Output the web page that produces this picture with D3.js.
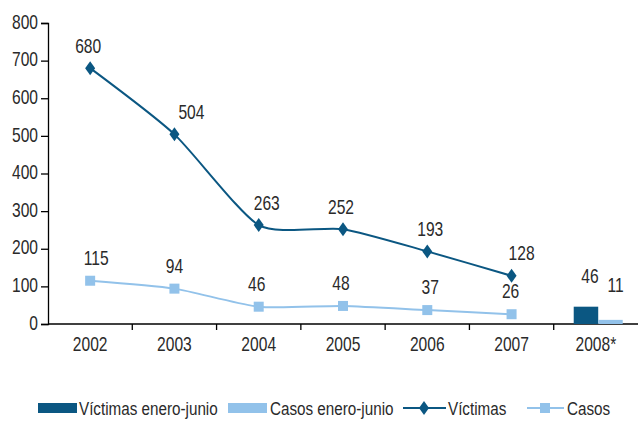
<!DOCTYPE html>
<html>
<head>
<meta charset="utf-8">
<script src="https://cdn.jsdelivr.net/npm/d3@7"></script>
<style>
  body { margin: 0; background: #fff; }
  svg text { font-family: "Liberation Sans", Arial, sans-serif; fill: #2a2a2a; font-size: 20px; }
  svg .leg text { font-size: 17.5px; }
</style>
</head>
<body>
<div id="bdy"></div>
<script>
var width = 639;
var height = 422;

// categories
var years = ["2002", "2003", "2004", "2005", "2006", "2007", "2008*"];
var lineYears = ["2002", "2003", "2004", "2005", "2006", "2007"];
// series values
var victimas = [680, 504, 263, 252, 193, 128];
var casos = [115, 94, 46, 48, 37, 26];
var victimasEneroJunio = 46;
var casosEneroJunio = 11;
// y tick labels
var yTicks = [0, 100, 200, 300, 400, 500, 600, 700, 800];
// legend labels
var legendLabels = ["Víctimas enero-junio", "Casos enero-junio", "Víctimas", "Casos"];

// label nudges (style, not data)
var vicLabelDx = [-2, 17, 8, -2, 3, 10];
var casLabelDx = [6, 0, -2, -2, 3, -1];

var dark = "#0b5782";
var light = "#92c2ea";

var svg = d3.select("#bdy").append("svg")
    .attr("width", width)
    .attr("height", height);

// condensed text helper
function txt(g, x, y, s, anchor, sx) {
    return g.append("text")
        .attr("transform", "translate(" + x + "," + y + ") scale(" + (sx || 0.78) + ",1)")
        .attr("text-anchor", anchor || "start")
        .text(s);
}

var xScale = d3.scaleBand().domain(years).range([48, 638]).padding(0);
var yScale = d3.scaleLinear().domain([0, 800]).range([324, 23]);
function cx(y) { return xScale(y) + xScale.bandwidth() / 2; }

//========================================================================
//                      AXES
//========================================================================
var yAxis = svg.append("g")
    .attr("transform", "translate(48,0)")
    .call(d3.axisLeft(yScale).tickValues(yTicks).tickSize(7).tickFormat(""));
yAxis.select(".domain").attr("stroke", "#000").attr("stroke-width", 1.3);
yAxis.selectAll(".tick line").attr("stroke", "#000").attr("stroke-width", 1.3);
yTicks.forEach(function(t) {
    txt(svg, 38, yScale(t) + 5.7, t, "end");
});

var xAxis = svg.append("g").attr("transform", "translate(0,324)");
xAxis.append("line")
    .attr("x1", 48).attr("x2", 638)
    .attr("stroke", "#000").attr("stroke-width", 1.3);
xAxis.selectAll(".xt")
    .data(years.slice(1))
    .enter().append("line")
    .attr("x1", function(d) { return xScale(d); })
    .attr("x2", function(d) { return xScale(d); })
    .attr("y1", 0).attr("y2", 6)
    .attr("stroke", "#000").attr("stroke-width", 1.3);
years.forEach(function(d) {
    txt(svg, cx(d), 351, d, "middle");
});

//========================================================================
//                      BARS 2008
//========================================================================
var bx0 = xScale("2008*");
var inner = d3.scaleBand().domain(["v", "c"]).range([bx0 + 20, bx0 + 69]);
var barData = [
  { k: "v", v: victimasEneroJunio, c: dark, dx: 4, dy: -24 },
  { k: "c", v: casosEneroJunio, c: light, dx: 5, dy: -27.5 }
];
svg.selectAll(".bar")
    .data(barData)
    .enter().append("rect")
    .attr("x", function(d) { return inner(d.k); })
    .attr("width", inner.bandwidth())
    .attr("y", function(d) { return yScale(d.v); })
    .attr("height", function(d) { return yScale(0) - yScale(d.v); })
    .attr("fill", function(d) { return d.c; });
barData.forEach(function(d) {
    txt(svg, inner(d.k) + inner.bandwidth() / 2 + d.dx, yScale(d.v) + d.dy, d.v, "middle");
});

//========================================================================
//                      LINES
//========================================================================
var line = d3.line()
    .x(function(d, i) { return cx(lineYears[i]); })
    .y(function(d) { return yScale(d); })
    .curve(d3.curveCardinal.tension(0.35));

svg.append("path").datum(casos)
    .attr("d", line).attr("fill", "none")
    .attr("stroke", light).attr("stroke-width", 2);
svg.append("path").datum(victimas)
    .attr("d", line).attr("fill", "none")
    .attr("stroke", dark).attr("stroke-width", 2);

svg.selectAll(".sq")
    .data(casos)
    .enter().append("rect")
    .attr("x", function(d, i) { return cx(lineYears[i]) - 5; })
    .attr("y", function(d) { return yScale(d) - 5; })
    .attr("width", 10).attr("height", 10)
    .attr("fill", light);

var diamond = "M0,-7L5,0L0,7L-5,0Z";
svg.selectAll(".dm")
    .data(victimas)
    .enter().append("path")
    .attr("d", diamond)
    .attr("transform", function(d, i) { return "translate(" + cx(lineYears[i]) + "," + yScale(d) + ")"; })
    .attr("fill", dark);

victimas.forEach(function(d, i) {
    txt(svg, cx(lineYears[i]) + vicLabelDx[i], yScale(d) - 15.5, d, "middle");
});
casos.forEach(function(d, i) {
    txt(svg, cx(lineYears[i]) + casLabelDx[i], yScale(d) - 16, d, "middle");
});

//========================================================================
//                      LEGEND
//========================================================================
var lg = svg.append("g").attr("class", "leg").attr("transform", "translate(0,408)");
lg.append("rect").attr("x", 38).attr("y", -5).attr("width", 39).attr("height", 10).attr("fill", dark);
txt(lg, 79, 6.5, legendLabels[0], "start", 0.87);
lg.append("rect").attr("x", 228).attr("y", -5).attr("width", 39).attr("height", 10).attr("fill", light);
txt(lg, 270, 6.5, legendLabels[1], "start", 0.87);
lg.append("line").attr("x1", 403).attr("x2", 446).attr("stroke", dark).attr("stroke-width", 2);
lg.append("path").attr("d", diamond).attr("transform", "translate(424,0)").attr("fill", dark);
txt(lg, 448, 6.5, legendLabels[2], "start", 0.87);
lg.append("line").attr("x1", 527).attr("x2", 564).attr("stroke", light).attr("stroke-width", 2);
lg.append("rect").attr("x", 540).attr("y", -5).attr("width", 10).attr("height", 10).attr("fill", light);
txt(lg, 567, 6.5, legendLabels[3], "start", 0.87);
</script>
</body>
</html>
